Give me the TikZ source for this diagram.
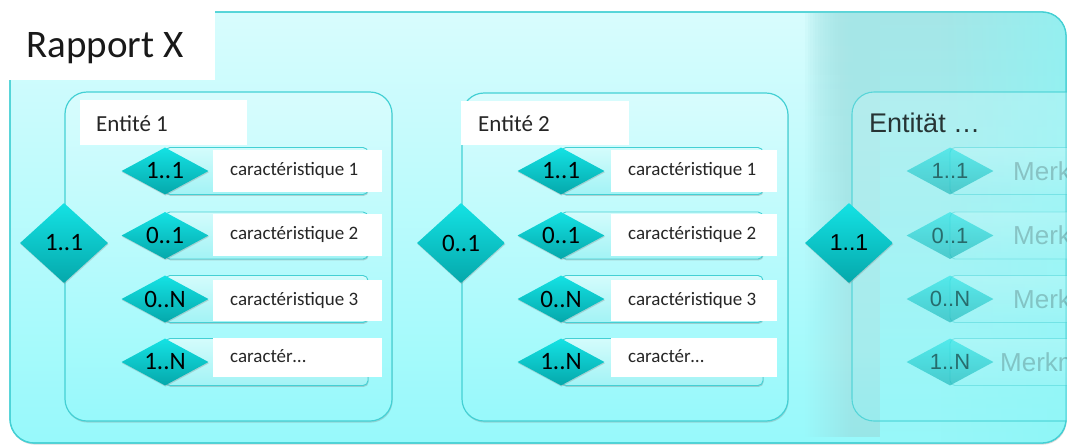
\documentclass[tikz,border=0pt]{standalone}
\usepackage{fontspec}
\setmainfont{Carlito}
\newfontfamily\arialfont{Liberation Sans}
\usetikzlibrary{shapes.geometric,shadows,fadings}

\definecolor{rim}{HTML}{44D0D4}
\definecolor{paneltop}{HTML}{D8FCFD}
\definecolor{panelbot}{HTML}{97F9FB}
\definecolor{gemtop}{HTML}{14E2E4}
\definecolor{gembot}{HTML}{05A8AB}
\definecolor{bartop}{HTML}{D4FCFC}
\definecolor{barbot}{HTML}{A2F3F5}
\definecolor{haze}{HTML}{A5E6E7}
\definecolor{hazebot}{HTML}{97F7F9}
\definecolor{hazeright}{HTML}{8AF6F6}

\tikzfading[name=hazein, left color=transparent!100, right color=transparent!0]
\tikzfading[name=hazedown, top color=transparent!0, bottom color=transparent!100]

% four attribute rows of one entity:
% #1 name prefix, #2 diamond x, #3 bar end x, #4 label box left, #5 label box right
\newcommand\entityrows[5]{%
  \foreach \gy/\ya/\yb/\bl/\m/\lab [count=\i] in
    {171/150/191.5/175.5/1..1/caractéristique 1,
     235.5/214/256/239.5/0..1/caractéristique 2,
     299/280/321/305/0..N/caractéristique 3,
     362/338/377/362.5/1..N/caractér…}{
    \draw[bar] (#2,\gy-23.5) rectangle (#3,\gy+23.5);
    \node[attrgem] (#1g\i) at (#2,\gy) {\m};
    \fill[tag] (#4,\ya) rectangle (#5,\yb);
    \node[attrtext, anchor=base west] (#1t\i) at (#4+17,\bl) {\lab};
  }}

\begin{document}
\begin{tikzpicture}[x=1pt,y=-1pt,
  panel/.style={draw=rim, line width=1.2pt, rounded corners=22pt,
    top color=paneltop, bottom color=panelbot},
  panelshadow/.style={drop shadow={shadow xshift=0.6pt, shadow yshift=-1.6pt, opacity=0.3}},
  gem/.style={diamond, inner sep=0pt, draw=none, top color=gemtop, bottom color=gembot,
    text=black, drop shadow={shadow xshift=0.5pt, shadow yshift=-1.2pt, opacity=0.3}},
  relgem/.style={gem, minimum width=88pt, minimum height=80pt, aspect=1.1,
    font=\fontsize{25}{25}\selectfont},
  attrgem/.style={gem, minimum width=87pt, minimum height=47pt, aspect=1.85,
    font=\fontsize{25}{25}\selectfont},
  bar/.style={draw=rim, line width=0.9pt, rounded corners=5pt, top color=bartop,
    bottom color=barbot, drop shadow={shadow xshift=0.6pt, shadow yshift=-1.4pt, opacity=0.35}},
  fadedbar/.style={draw=rim, draw opacity=0.45, line width=0.9pt, rounded corners=5pt,
    top color=bartop, bottom color=barbot, fill opacity=0.3},
  tag/.style={fill=white},
  attrtext/.style={font=\fontsize{19}{19}\selectfont, text=black!85, inner sep=0pt},
  title/.style={font=\fontsize{23}{23}\selectfont, text=black!85, inner sep=0pt},
  ]
\useasboundingbox (0,0) rectangle (1067,445);
\clip (0,0) rectangle (1067,445);
\fill[white] (0,0) rectangle (1067,445);

% report frame, with its right part tinted
\path[panel, panelshadow, rounded corners=24pt] (10,12) rectangle (1066,443);
\begin{scope}
  \clip[rounded corners=24pt] (10,12) rectangle (1066,443);
  % stacked translucent layers build up the tint from left to right
  \foreach \k in {0,...,29}{
    \fill[haze, path fading=hazedown, opacity=0.12] (805+2.5*\k,12) rectangle (881,443);
  }
  \fill[top color=haze, bottom color=hazebot] (880,12) rectangle (1067,443);
  \fill[hazeright, path fading=hazein, opacity=0.6] (940,12) rectangle (1067,443);
\end{scope}
\draw[rim, line width=1.3pt, rounded corners=24pt] (10,12) rectangle (1066,443);

\fill[white] (0,0) rectangle (215,80);
\node[font=\fontsize{39}{39}\selectfont, text=black!90, anchor=base west, inner sep=0pt]
  (rapport) at (26,57) {Rapport X};

% entity 1
\path[panel, panelshadow] (65,92) rectangle (392,421);
\fill[tag] (80,100) rectangle (247,145);
\node[title, anchor=base west] (e1) at (96,131) {Entité 1};
\entityrows{eA}{165}{368}{213}{382}
\node[relgem] (r1) at (64,243) {1..1};

% entity 2
\path[panel, panelshadow] (462,93) rectangle (788,421);
\fill[tag] (461,101) rectangle (629,145);
\node[title, anchor=base west] (e2) at (478,131) {Entité 2};
\entityrows{eB}{561}{763}{611}{777}
\node[relgem] (r2) at (461,243) {0..1};

% entity 3, faded out towards the edge
\path[draw=rim, draw opacity=0.8, line width=1.1pt, rounded corners=22pt,
  top color=paneltop, bottom color=panelbot, fill opacity=0.3] (852,92) rectangle (1110,421);
\node[font=\arialfont\fontsize{27}{27}\selectfont, text=black, text opacity=0.78,
  anchor=base west, inner sep=0pt] (e3) at (869,132) {Entität …};
\foreach \gy/\m/\tx [count=\i] in {171/1..1/1013, 235.5/0..1/1013, 299/0..N/1013, 362/1..N/1000}{
  \draw[fadedbar] (950,\gy-23.5) rectangle (1110,\gy+23.5);
  \node[diamond, inner sep=0pt, minimum width=87pt, minimum height=47pt, aspect=1.85,
    top color=gemtop, bottom color=gembot, opacity=0.55, text=black, text opacity=0.5,
    font=\arialfont\fontsize{22}{22}\selectfont] (eCg\i) at (950,\gy) {\m};
  \node[anchor=base west, font=\arialfont\fontsize{26}{26}\selectfont, text=black,
    text opacity=0.2, inner sep=0pt] (eCt\i) at (\tx,\gy+9) {Merkmal \i};
}
\node[relgem, font=\arialfont\fontsize{23}{23}\selectfont] (r3) at (849,243) {1..1};
\end{tikzpicture}
\end{document}
